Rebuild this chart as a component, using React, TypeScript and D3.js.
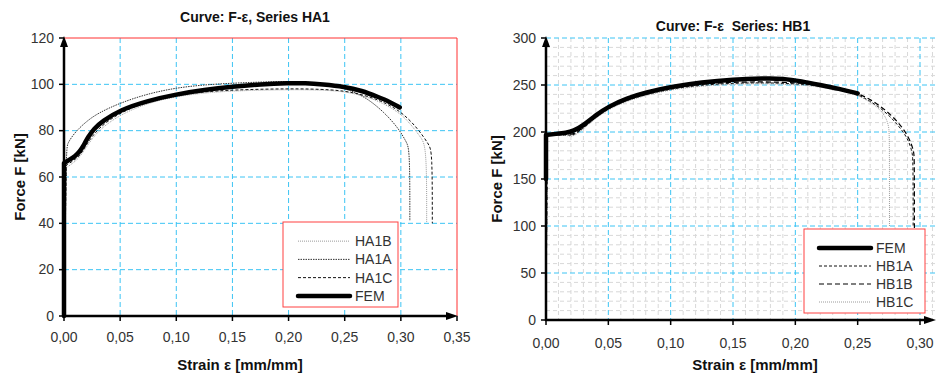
import { line, range, scaleLinear, curveBasis } from "d3";

type Pt = [number, number];

// ---- series HA1 (strain, force kN)
const ha1Fem: Pt[] = [[0, 0], [0, 66], [0.005, 67.5], [0.01, 69], [0.014, 71], [0.018, 74], [0.021, 77], [0.027, 81], [0.034, 84], [0.05, 89], [0.075, 93], [0.1, 95.7], [0.125, 97.6], [0.15, 99], [0.175, 100], [0.2, 100.5], [0.215, 100.5], [0.23, 100], [0.25, 99], [0.265, 97.3], [0.28, 94.5], [0.29, 92.5], [0.299, 90]];
const ha1A: Pt[] = [[0, 0], [0.002, 72], [0.003, 74.5], [0.01, 79.5], [0.02, 84], [0.03, 87.5], [0.05, 92], [0.075, 96], [0.1, 98.5], [0.125, 99.8], [0.15, 100.5], [0.175, 101], [0.2, 101.3], [0.22, 101], [0.24, 99.5], [0.255, 97.5], [0.27, 94], [0.285, 88], [0.298, 81], [0.305, 75], [0.308, 72], [0.308, 41]];
const ha1B: Pt[] = [[0, 0], [0.002, 64], [0.008, 66], [0.014, 68.5], [0.02, 73], [0.03, 80], [0.05, 87], [0.075, 92], [0.1, 94.8], [0.125, 96.3], [0.15, 97.2], [0.2, 97.8], [0.24, 97.5], [0.26, 96], [0.28, 93], [0.3, 87.5], [0.31, 82], [0.318, 77], [0.323, 73], [0.323, 40.5]];
const ha1C: Pt[] = [[0, 0], [0.002, 65], [0.008, 67], [0.014, 69], [0.02, 74], [0.03, 81], [0.05, 88], [0.075, 92.5], [0.1, 95.3], [0.125, 96.8], [0.15, 97.6], [0.2, 98.2], [0.24, 97.8], [0.26, 96.3], [0.28, 93.5], [0.3, 88.5], [0.315, 81], [0.325, 74], [0.328, 71], [0.328, 40]];

// ---- series HB1
const hb1Fem: Pt[] = [[0, 150], [0, 197], [0.008, 198], [0.016, 199], [0.022, 201], [0.03, 207], [0.04, 218], [0.05, 227], [0.065, 236], [0.08, 242], [0.1, 248], [0.125, 253], [0.15, 256], [0.175, 257], [0.19, 257], [0.205, 254], [0.22, 250], [0.235, 246], [0.25, 241]];
const hb1A: Pt[] = [[0, 0], [0.001, 196], [0.01, 197], [0.018, 197], [0.022, 196], [0.03, 204], [0.04, 216], [0.05, 225], [0.065, 234], [0.08, 240], [0.1, 246], [0.125, 250], [0.15, 252], [0.175, 252.5], [0.2, 251.5], [0.22, 249], [0.24, 244], [0.25, 240], [0.26, 233], [0.272, 222], [0.282, 208], [0.29, 194], [0.2935, 180], [0.2945, 172], [0.2945, 100]];
const hb1B: Pt[] = [[0, 0], [0.001, 197], [0.01, 198], [0.018, 198], [0.022, 197], [0.03, 205], [0.04, 217], [0.05, 226], [0.065, 235], [0.08, 241], [0.1, 247], [0.125, 251], [0.15, 253], [0.175, 253.5], [0.2, 252.5], [0.22, 250], [0.24, 245], [0.25, 241], [0.26, 235], [0.272, 224], [0.283, 210], [0.291, 195], [0.295, 180], [0.2955, 173], [0.2955, 98]];
const hb1C: Pt[] = [[0, 0], [0.001, 196], [0.01, 197], [0.018, 196], [0.022, 195], [0.03, 203], [0.04, 215], [0.05, 224], [0.065, 233], [0.08, 239], [0.1, 245], [0.125, 249], [0.15, 251], [0.175, 251.5], [0.2, 250.5], [0.22, 248], [0.24, 243], [0.25, 239], [0.26, 232], [0.268, 224], [0.273, 215], [0.275, 205], [0.2755, 198], [0.2755, 100]];

const xTicksA = [0, 0.05, 0.1, 0.15, 0.2, 0.25, 0.3, 0.35];
const yTicksA = [0, 20, 40, 60, 80, 100, 120];
const xTicksB = [0, 0.05, 0.1, 0.15, 0.2, 0.25, 0.3];
const yTicksB = [0, 50, 100, 150, 200, 250, 300];

const FONT = "'Liberation Sans', Arial, sans-serif";
const GRID = "#3cc4f4";
const fmt = (v: number) => v.toFixed(2).replace(".", ",");

type Style = { stroke: string; width: number; dash?: string };
type Series = { name: string; data: Pt[]; style: Style };

const styles: Record<string, Style> = {
  fem: { stroke: "#000", width: 4.5 },
  lightDot: { stroke: "#9a9a9a", width: 1, dash: "1,1" },
  darkDot: { stroke: "#333", width: 1, dash: "1.5,1" },
  shortDash: { stroke: "#111", width: 1, dash: "3,2" },
  longDash: { stroke: "#000", width: 1.2, dash: "5,3" },
};

// repeat the points where the path turns hard, so the basis spline keeps those corners
function sharpen(px: Pt[]): Pt[] {
  const out: Pt[] = [];
  px.forEach((q, i) => {
    out.push(q);
    if (i === 0 || i === px.length - 1) return;
    const a = Math.atan2(q[1] - px[i - 1][1], q[0] - px[i - 1][0]);
    const b = Math.atan2(px[i + 1][1] - q[1], px[i + 1][0] - q[0]);
    let d = Math.abs(a - b);
    if (d > Math.PI) d = 2 * Math.PI - d;
    if (d > 0.9) out.push(q, q);
  });
  return out;
}

function Chart(props: {
  x0: number; x1: number; y0: number; y1: number;
  xMax: number; yMax: number; xEnd: number;
  xTicks: number[]; yTicks: number[];
  series: Series[]; legendOrder: Series[];
  legend: { x: number; y: number; w: number; h: number };
  title: string; titleX: number; titleY: number;
  yLabelX: number; xLabelX: number;
  minor: boolean; frame: boolean;
  xLabY: number;
}) {
  const p = props;
  const x = scaleLinear().domain([0, p.xMax]).range([p.x0, p.x1]);
  const y = scaleLinear().domain([0, p.yMax]).range([p.y0, p.y1]);
  const gen = line<Pt>().curve(curveBasis);
  const pathOf = (data: Pt[]) => gen(sharpen(data.map((d) => [x(d[0]), y(d[1])] as Pt))) ?? "";
  const minorX = p.minor ? range(1, 32).map((i) => i / 100).filter((v) => Math.round(v * 100) % 5 !== 0) : [];
  const minorY = p.minor ? range(10, p.yMax, 10).filter((v) => v % 50 !== 0) : [];
  const yMid = (p.y0 + p.y1) / 2;
  const L = p.legend;
  const rowH = (L.h - 12) / p.legendOrder.length;
  return (
    <g fontFamily={FONT}>
      <text x={p.titleX} y={p.titleY} textAnchor="middle" fontSize={14} fontWeight="bold" fill="#111" style={{ whiteSpace: "pre" }}>{p.title}</text>
      {minorX.map((v) => (
        <line key={"mx" + v} x1={x(v)} x2={x(v)} y1={p.y1} y2={p.y0} stroke="#d8d8d8" strokeDasharray="4,3" />
      ))}
      {minorY.map((v) => (
        <line key={"my" + v} x1={p.x0} x2={p.xEnd} y1={y(v)} y2={y(v)} stroke="#d8d8d8" strokeDasharray="4,3" />
      ))}
      {p.xTicks.slice(1).map((v) => (
        (p.frame && v === p.xMax) ? null :
        <line key={"gx" + v} x1={x(v)} x2={x(v)} y1={p.y1} y2={p.y0} stroke={GRID} strokeDasharray="5,3" />
      ))}
      {p.yTicks.slice(1).map((v) => (
        (p.frame && v === p.yMax) ? null :
        <line key={"gy" + v} x1={p.x0} x2={p.xEnd} y1={y(v)} y2={y(v)} stroke={GRID} strokeDasharray="5,3" />
      ))}
      {p.frame ? (
        <path d={`M${p.x0},${p.y1}H${p.x1}V${p.y0}`} fill="none" stroke="#ff3030" strokeWidth={1} />
      ) : null}
      {p.series.map((s) => (
        <path key={s.name} d={pathOf(s.data)} fill="none" stroke={s.style.stroke} strokeWidth={s.style.width}
          strokeDasharray={s.style.dash} strokeLinecap={s.style.dash ? "butt" : "round"} strokeLinejoin="round" />
      ))}
      {/* axes */}
      <line x1={p.x0} x2={p.x0} y1={p.y0 + 1} y2={p.y1 + 6} stroke="#000" strokeWidth={2.5} />
      <path d={`M${p.x0},${p.y1 - 2}L${p.x0 - 4},${p.y1 + 9}L${p.x0 + 4},${p.y1 + 9}Z`} fill="#000" />
      <line x1={p.x0 - 1} x2={p.xEnd - 6} y1={p.y0} y2={p.y0} stroke="#000" strokeWidth={2.5} />
      <path d={`M${p.xEnd + 1},${p.y0}L${p.xEnd - 11},${p.y0 - 4}L${p.xEnd - 11},${p.y0 + 4}Z`} fill="#000" />
      {p.yTicks.map((v) => (
        <g key={"yt" + v}>
          <line x1={p.x0 - 5} x2={p.x0} y1={y(v)} y2={y(v)} stroke="#000" strokeWidth={1.5} />
          <text x={p.x0 - 10} y={y(v) + 4.5} textAnchor="end" fontSize={14} fill="#333">{v}</text>
        </g>
      ))}
      {p.xTicks.map((v) => (
        <g key={"xt" + v}>
          <line x1={x(v)} x2={x(v)} y1={p.y0} y2={p.y0 + 5} stroke="#000" strokeWidth={1.5} />
          <text x={x(v)} y={p.xLabY} textAnchor="middle" fontSize={14} fill="#333">{fmt(v)}</text>
        </g>
      ))}
      <text transform={`translate(${p.yLabelX},${yMid}) rotate(-90)`} textAnchor="middle" fontSize={15} fontWeight="bold" fill="#111">Force F [kN]</text>
      <text x={p.xLabelX} y={370} textAnchor="middle" fontSize={15} fontWeight="bold" fill="#111">Strain ε [mm/mm]</text>
      {/* legend */}
      <rect x={L.x} y={L.y} width={L.w} height={L.h} fill="#fff" stroke="#ff4040" strokeWidth={1} />
      {p.legendOrder.map((s, i) => {
        const cy = L.y + 10 + rowH * (i + 0.5);
        return (
          <g key={"lg" + s.name}>
            <line x1={L.x + 15} x2={L.x + 67} y1={cy} y2={cy} stroke={s.style.stroke} strokeWidth={s.style.width}
              strokeDasharray={s.style.dash} strokeLinecap={s.style.dash ? "butt" : "round"} />
            <text x={L.x + 72} y={cy + 5} fontSize={14} fill="#333">{s.name}</text>
          </g>
        );
      })}
    </g>
  );
}

export default function App() {
  const sA: Series[] = [
    { name: "HA1B", data: ha1B, style: styles.lightDot },
    { name: "HA1A", data: ha1A, style: styles.darkDot },
    { name: "HA1C", data: ha1C, style: styles.shortDash },
    { name: "FEM", data: ha1Fem, style: styles.fem },
  ];
  const sB: Series[] = [
    { name: "HB1C", data: hb1C, style: styles.lightDot },
    { name: "HB1A", data: hb1A, style: styles.shortDash },
    { name: "HB1B", data: hb1B, style: styles.longDash },
    { name: "FEM", data: hb1Fem, style: styles.fem },
  ];
  const orderB = [sB[3], sB[1], sB[2], sB[0]];
  return (
    <svg width={937} height={378} style={{ position: "absolute", left: 0, top: 0, background: "#fff" }}>
      <Chart x0={64} x1={457} y0={316} y1={38} xMax={0.35} yMax={120} xEnd={457}
        xTicks={xTicksA} yTicks={yTicksA} series={sA} legendOrder={sA}
        legend={{ x: 283, y: 222, w: 115, h: 85 }}
        title="Curve: F-ε, Series HA1" titleX={255} titleY={22}
        yLabelX={25} xLabelX={240} minor={false} frame={true} xLabY={342} />
      <Chart x0={546} x1={920} y0={320} y1={38} xMax={0.3} yMax={300} xEnd={935}
        xTicks={xTicksB} yTicks={yTicksB} series={sB} legendOrder={orderB}
        legend={{ x: 804, y: 229, w: 121, h: 84 }}
        title="Curve: F-ε  Series: HB1" titleX={733} titleY={31}
        yLabelX={502} xLabelX={755} minor={true} frame={false} xLabY={348} />
    </svg>
  );
}
